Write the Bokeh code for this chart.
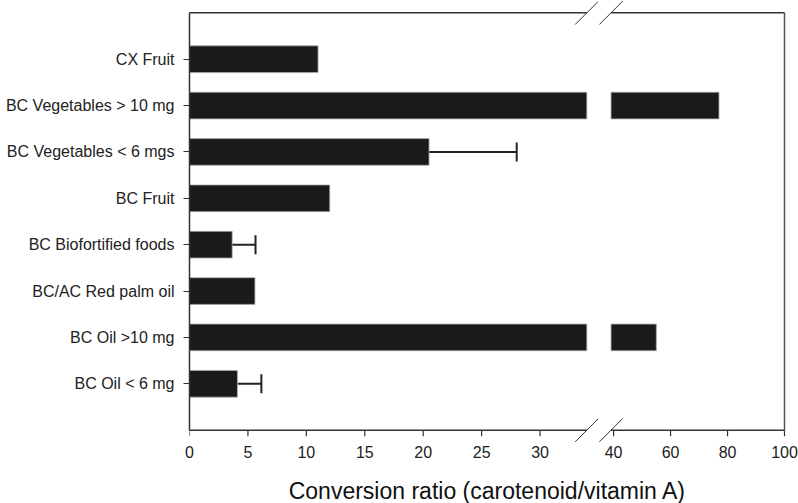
from bokeh.plotting import figure
from bokeh.layouts import row, column
from bokeh.models import (FactorRange, Range1d, FixedTicker, ColumnDataSource,
                          Whisker, TeeHead)
from bokeh.core.properties import value
from bokeh.embed import file_html
from bokeh.resources import INLINE

# ---------------- data ----------------
categories = ["BC Oil < 6 mg", "BC Oil >10 mg", "BC/AC Red palm oil",
              "BC Biofortified foods", "BC Fruit", "BC Vegetables < 6 mgs",
              "BC Vegetables > 10 mg", "CX Fruit"]
ratios = [4.1, 55, 5.6, 3.65, 12, 20.5, 77, 11]

err_categories = ["BC Oil < 6 mg", "BC Biofortified foods", "BC Vegetables < 6 mgs"]
err_upper = [6.15, 5.65, 28]

left_ticks = [0, 5, 10, 15, 20, 25, 30]
right_ticks = [40, 60, 80, 100]
break_low = 34      # axis is cut here ...
break_high = 39.1   # ... and resumes here
x_max = 100
x_title = "Conversion ratio (carotenoid/vitamin A)"

FONT = "Liberation Sans"
BAR = "#1a1a1a"
BAR_EDGE = "#a8a8a8"
AX = "#333333"
TXT = "#222222"

# ---------------- sources ----------------
left_src = ColumnDataSource(dict(cat=categories,
                                 val=[min(v, break_low) for v in ratios]))
right_src = ColumnDataSource(dict(
    cat=[c for c, v in zip(categories, ratios) if v > break_high],
    val=[v for v in ratios if v > break_high]))
err_lower = [ratios[categories.index(c)] for c in err_categories]
err_src = ColumnDataSource(dict(cat=err_categories, lo=err_lower, hi=err_upper))

y_range = FactorRange(factors=categories, range_padding=0.766,
                      range_padding_units="absolute")
Y0 = -0.5                       # bottom edge of the plotting box
Y1 = len(categories) + 0.5      # top edge of the plotting box
TICK = 0.129                    # 6 px in category units
SL_Y = 0.252                    # half height of a break slash


def style_xaxis(ax, ticks):
    ax.ticker = FixedTicker(ticks=ticks)
    ax.minor_tick_line_color = None
    ax.major_tick_line_color = None
    ax.major_tick_in = 0
    ax.major_tick_out = 0
    ax.axis_line_color = None
    ax.major_label_text_font = FONT
    ax.major_label_text_font_size = "16px"
    ax.major_label_text_color = TXT
    ax.major_label_standoff = 3


# ---------------- left part (0 .. break) ----------------
left = figure(width=598, height=470, y_range=y_range, title=None,
              x_range=Range1d(0, 35), output_backend="svg",
              toolbar_location=None, min_border_left=189, min_border_right=0,
              min_border_top=0, min_border_bottom=28)
left.outline_line_color = None
left.grid.visible = False
left.hbar(y="cat", left=0, right="val", height=0.575, source=left_src,
          fill_color=BAR, line_color=BAR_EDGE, line_width=0.8)
style_xaxis(left.xaxis[0], left_ticks)
ya = left.yaxis[0]
ya.bounds = (Y0, Y1)
ya.major_tick_in = 0
ya.major_tick_out = 6
ya.major_tick_line_color = AX
ya.major_tick_line_width = 1.2
ya.axis_line_color = AX
ya.axis_line_width = 1.5
ya.major_label_text_font = FONT
ya.major_label_text_font_size = "16px"
ya.major_label_text_color = TXT
ya.major_label_standoff = 9

left.segment(x0=[0, 0], y0=[Y0, Y1], x1=[break_low, break_low], y1=[Y0, Y1],
             line_color=AX, line_width=1.5)
left.segment(x0=left_ticks, y0=[Y0] * len(left_ticks), x1=left_ticks,
             y1=[Y0 - TICK] * len(left_ticks), line_color=AX, line_width=1.2)
left.segment(x0=[break_low - 1] * 2, y0=[Y0 - SL_Y, Y1 - SL_Y],
             x1=[break_low + 1] * 2, y1=[Y0 + SL_Y, Y1 + SL_Y],
             line_color="#333333", line_width=1)
left.add_layout(Whisker(base="cat", lower="lo", upper="hi", source=err_src,
                        dimension="width", line_color=TXT, line_width=2,
                        lower_head=None,
                        upper_head=TeeHead(size=19, line_color=TXT,
                                           line_width=2)))

# ---------------- right part (break .. 100) ----------------
right = figure(width=200, height=470, y_range=y_range, title=None,
               x_range=Range1d(34.7, 100.7), output_backend="svg",
               toolbar_location=None, min_border_left=0, min_border_right=12,
               min_border_top=0, min_border_bottom=28, y_axis_location=None)
right.outline_line_color = None
right.grid.visible = False
right.hbar(y="cat", left=break_high, right="val", height=0.575,
           source=right_src, fill_color=BAR, line_color=BAR_EDGE,
           line_width=0.8)
style_xaxis(right.xaxis[0], right_ticks)
right.segment(x0=[break_high, break_high], y0=[Y0, Y1], x1=[x_max, x_max],
              y1=[Y0, Y1], line_color=AX, line_width=1.5)
right.segment(x0=[x_max], y0=[Y0], x1=[x_max], y1=[Y1],
              line_color="#555555", line_width=1.5)
right.segment(x0=right_ticks, y0=[Y0] * len(right_ticks), x1=right_ticks,
              y1=[Y0 - TICK] * len(right_ticks), line_color=AX, line_width=1.2)
right.segment(x0=[break_high - 4.1] * 2, y0=[Y0 - SL_Y, Y1 - SL_Y],
              x1=[break_high + 4.1] * 2, y1=[Y0 + SL_Y, Y1 + SL_Y],
              line_color="#333333", line_width=1)

# ---------------- axis title strip ----------------
tfig = figure(width=798, height=33, x_range=Range1d(0, 798), title=None,
              y_range=Range1d(0, 33), output_backend="svg",
              toolbar_location=None, x_axis_type=None, y_axis_type=None,
              min_border=0)
tfig.outline_line_color = None
tfig.grid.visible = False
tfig.text(x=[487], y=[13], text=[x_title], text_align="center",
          text_baseline="middle", text_font=value(FONT),
          text_font_size="23px", text_color="#111111")

layout = column(row(left, right, spacing=0), tfig, spacing=0)

with open("out.html", "w") as f:
    f.write(file_html(layout, INLINE))
